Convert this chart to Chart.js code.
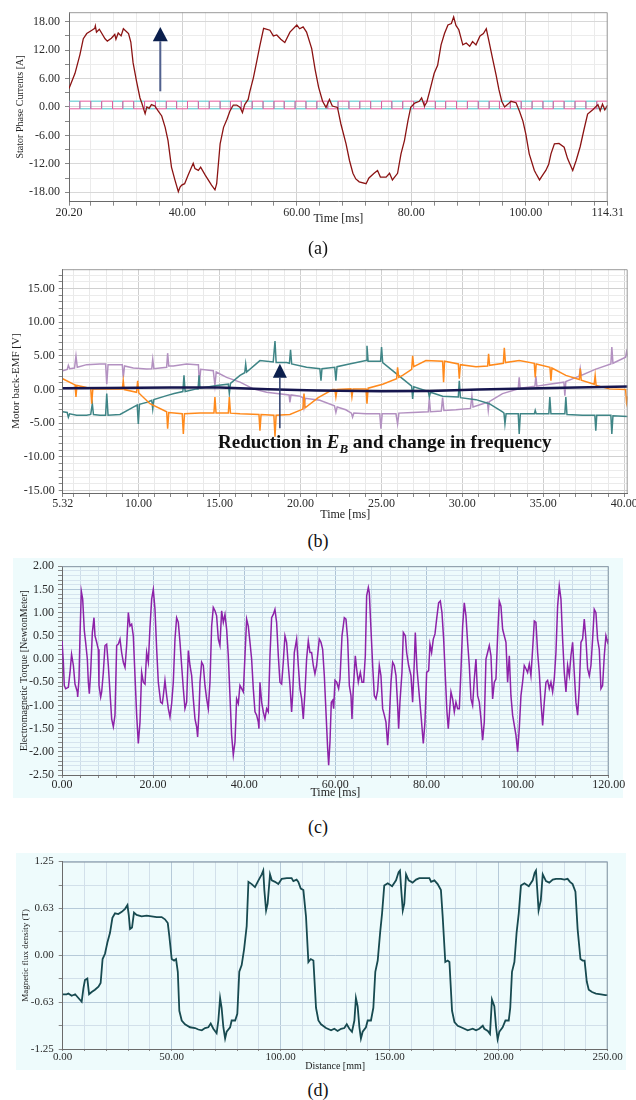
<!DOCTYPE html>
<html lang="en">
<head>
<meta charset="utf-8">
<title>Motor waveforms</title>
<script src="https://cdn.jsdelivr.net/npm/chart.js@4.4.1/dist/chart.umd.min.js"></script>
<style>
  html, body { margin: 0; padding: 0; }
  body { width: 636px; height: 1100px; overflow: hidden; position: relative; background: #fff;
         font-family: "Liberation Serif", "Times New Roman", serif; color: #111; }
  .painel { position: absolute; }
  .fundo { position: absolute; background: #eefbfc; }
  .legenda { position: absolute; left: 0; width: 636px; text-align: center; font-size: 18px; line-height: 20px; }
  .nota { position: absolute; left: 218px; top: 431px; font-size: 19px; line-height: 22px; font-weight: bold; white-space: nowrap; }
  .nota sub { font-size: 13px; }
</style>
</head>
<body>
<div class="fundo" style="left:13px; top:558px; width:610px; height:240px;"></div>
<div class="fundo" style="left:16px; top:853px; width:610px; height:217px;"></div>

<canvas id="graficoA" class="painel" style="left:0; top:0;" width="636" height="228"></canvas>
<canvas id="graficoB" class="painel" style="left:0; top:258px;" width="660" height="264"></canvas>
<canvas id="graficoC" class="painel" style="left:0; top:555px;" width="636" height="248"></canvas>
<canvas id="graficoD" class="painel" style="left:0; top:850px;" width="636" height="225"></canvas>

<div class="legenda" style="top:238px;">(a)</div>
<div class="legenda" style="top:531px;">(b)</div>
<div class="legenda" style="top:817px;">(c)</div>
<div class="legenda" style="top:1080px;">(d)</div>
<div class="nota">Reduction in <i>E<sub>B</sub></i> and change in frequency</div>

<script>
// (a) corrente de fase do estator [A] x tempo [ms]
const tempoA = [
  20.2, 21.25, 22.1, 22.7, 23.3, 24.2, 24.7, 24.8, 25.0, 25.5,
  26.5, 26.9, 27.6, 28.2, 28.4, 28.8, 29.3, 29.7, 30.6, 31.0,
  31.4, 32.0, 32.6, 32.9, 33.5, 33.8, 34.2, 34.6, 35.2, 35.8,
  36.4, 37.0, 37.5, 38.1, 38.7, 39.3, 39.6, 39.9, 40.4, 41.0,
  41.9, 42.2, 42.8, 43.2, 44.0, 45.1, 45.7, 46.0, 46.6, 47.2,
  47.8, 48.3, 48.9, 49.5, 50.1, 50.5, 50.9, 51.5, 51.8, 52.4,
  53.0, 53.5, 54.2, 55.3, 55.9, 56.5, 57.2, 57.9, 58.8, 60.0,
  60.5, 61.1, 61.7, 62.6, 63.2, 63.8, 64.5, 65.1, 65.7, 66.2,
  67.1, 67.7, 68.6, 69.2, 69.8, 70.3, 70.9, 72.1, 72.6, 73.5,
  74.1, 74.6, 75.6, 76.2, 76.7, 77.6, 78.2, 78.8, 79.4, 79.9,
  80.6, 81.4, 81.8, 82.3, 82.7, 83.2, 84.0, 84.6, 85.2, 85.8,
  86.4, 87.0, 87.4, 87.8, 88.3, 89.0, 89.6, 90.2, 90.7, 91.3,
  92.0, 92.6, 93.1, 93.6, 94.2, 94.8, 95.3, 95.8, 96.3, 96.9,
  97.4, 98.3, 98.9, 99.5, 100.0, 100.6, 101.5, 101.8, 102.4, 103.0,
  103.5, 104.0, 104.4, 105.0, 105.8, 106.7, 107.3, 108.2, 108.8, 109.5,
  110.2, 110.8, 111.7, 112.6, 113.0, 113.4, 113.8, 114.31
];
const correnteA = [
  3.9, 7.1, 11.0, 14.4, 15.5, 16.2, 16.6, 17.1, 15.8, 16.4,
  14.4, 13.9, 14.5, 15.3, 14.3, 15.6, 15.0, 16.5, 15.5, 13.7,
  9.3, 5.4, 1.9, 0.9, -1.4, 0, -0.3, 0.5, 0.2, -0.9,
  -1.9, -4.3, -7.1, -12.7, -15.4, -17.9, -16.9, -16.5, -16.2, -14.4,
  -11.9, -13.0, -13.4, -12.7, -14.4, -16.5, -17.5, -16.2, -7.8, -4.3,
  -2.6, -0.9, 0.4, 0.4, -0.1, -1.2, 0.5, 1.6, 3.3, 6.1,
  9.6, 12.7, 16.6, 16.2, 15.0, 15.2, 14.3, 13.6, 15.8, 17.3,
  16.5, 16.9, 15.8, 12.3, 7.9, 4.2, 1.2, -0.1, 1.6, 0.2,
  -0.1, -3.6, -7.8, -11.3, -14.0, -15.2, -15.8, -16.2, -15.0, -14.0,
  -13.4, -14.8, -14.8, -14.0, -15.4, -14.0, -9.9, -7.1, -3.0, -0.1,
  0.8, 1.2, 1.9, 0.2, 1.0, 3.3, 7.1, 8.8, 13.1, 15.5,
  17.3, 17.6, 19.0, 17.2, 16.3, 13.1, 13.5, 12.8, 13.8, 13.1,
  15.0, 15.5, 16.5, 13.7, 10.2, 6.8, 3.7, 1.2, 0, 0.6,
  1.2, 0.9, -0.9, -3.0, -5.7, -9.9, -13.4, -14.1, -15.4, -14.3,
  -13.4, -12.1, -9.9, -7.8, -7.7, -8.5, -10.9, -13.4, -11.3, -8.4,
  -4.6, -1.5, -0.6, 0.5, -0.8, 0.6, -0.6, 0.4
];
// as duas fases chaveadas perto de zero (onda quadrada)
const tempoQuadrada = [
  20.2, 22.1, 24.0, 25.9, 27.8, 29.6, 31.5, 33.4, 35.3, 37.2,
  39.0, 40.9, 42.8, 44.7, 46.6, 48.4, 50.3, 52.2, 54.1, 56.0,
  57.8, 59.7, 61.6, 63.5, 65.4, 67.2, 69.1, 71.0, 72.9, 74.8,
  76.6, 78.5, 80.4, 82.3, 84.2, 86.0, 87.9, 89.8, 91.7, 93.6,
  95.4, 97.3, 99.2, 101.1, 103.0, 104.8, 106.7, 108.6, 110.5, 112.4,
  114.31
];
const faseMagenta = [
  1.22, -0.39, 1.22, -0.39, 1.22, -0.39, 1.22, -0.39, 1.22, -0.39,
  1.22, -0.39, 1.22, -0.39, 1.22, -0.39, 1.22, -0.39, 1.22, -0.39,
  1.22, -0.39, 1.22, -0.39, 1.22, -0.39, 1.22, -0.39, 1.22, -0.39,
  1.22, -0.39, 1.22, -0.39, 1.22, -0.39, 1.22, -0.39, 1.22, -0.39,
  1.22, -0.39, 1.22, -0.39, 1.22, -0.39, 1.22, -0.39, 1.22, -0.39,
  1.22
];
const faseCiano = [
  -0.39, 1.22, -0.39, 1.22, -0.39, 1.22, -0.39, 1.22, -0.39, 1.22,
  -0.39, 1.22, -0.39, 1.22, -0.39, 1.22, -0.39, 1.22, -0.39, 1.22,
  -0.39, 1.22, -0.39, 1.22, -0.39, 1.22, -0.39, 1.22, -0.39, 1.22,
  -0.39, 1.22, -0.39, 1.22, -0.39, 1.22, -0.39, 1.22, -0.39, 1.22,
  -0.39, 1.22, -0.39, 1.22, -0.39, 1.22, -0.39, 1.22, -0.39, 1.22,
  -0.39
];
const rotulosXA = [20.2, 40, 60, 80, 100, 114.31];
const rotulosYA = [-18, -12, -6, 0, 6, 12, 18];

// (b) back-EMF [V] x tempo [ms], quatro curvas
const tempoRoxo = [
  5.32, 5.6, 5.67, 5.75, 6.05, 6.14, 6.22, 6.8, 7.62, 7.97,
  8.04, 8.12, 8.45, 9.0, 9.06, 9.14, 9.68, 10.5, 10.82, 10.88,
  10.95, 11.33, 11.74, 11.8, 11.87, 12.15, 12.97, 13.59, 13.7, 13.76,
  13.84, 14.62, 14.72, 14.8, 15.44, 16.27, 17.09, 17.91, 19.3, 19.35,
  19.42, 19.97, 20.15, 20.22, 20.3, 21.2, 22.1, 22.19, 22.27, 22.8,
  23.15, 23.22, 23.3, 24.05, 24.9, 24.97, 25.05, 25.9, 26.0, 26.08,
  26.93, 27.9, 27.96, 28.03, 28.7, 28.78, 28.86, 29.6, 30.5, 30.59,
  30.66, 31.55, 31.6, 31.66, 32.48, 33.45, 33.51, 33.57, 34.48, 34.54,
  34.6, 35.36, 36.27, 36.33, 36.39, 37.22, 37.28, 37.34, 38.2, 39.17,
  39.23, 39.3, 40.08, 40.14, 40.21
];
const emfRoxo = [
  2.8, 3.0, 3.6, 3.1, 3.2, 5.0, 3.3, 3.7, 3.8, 3.8,
  0.8, 3.7, 3.7, 3.7, 1.8, 3.5, 3.2, 3.05, 3.1, 4.5,
  3.1, 3.2, 3.3, 5.4, 3.5, 3.5, 3.8, 3.7, 3.7, 0.8,
  3.0, 2.8, 0.6, 2.6, 1.8, 1.1, 0.1, -0.4, -0.8, -1.9,
  -0.8, -1.0, -1.2, -2.6, -1.3, -1.6, -2.4, -3.4, -2.6, -3.0,
  -3.5, -4.1, -3.5, -3.6, -3.6, -5.8, -3.6, -3.6, -5.1, -3.5,
  -3.4, -3.3, -1.3, -3.3, -3.2, -1.2, -3.1, -3.0, -2.8, -1.0,
  -2.6, -1.9, -3.1, -1.8, -0.6, 0.1, 1.8, 0.2, 0.5, 2.0,
  0.5, 0.8, 1.1, -0.9, 1.2, 2.0, 3.1, 2.1, 3.0, 3.8,
  6.3, 3.9, 4.8, 5.6, 4.9
];
const tempoVerde = [
  5.32, 5.6, 5.67, 5.75, 6.18, 6.8, 7.05, 7.15, 7.22, 7.62,
  7.97, 8.04, 8.12, 8.86, 9.68, 9.92, 9.99, 10.06, 10.5, 10.82,
  10.88, 10.95, 11.74, 12.2, 12.74, 12.81, 12.88, 13.59, 13.68, 13.74,
  13.8, 14.83, 15.55, 15.61, 15.68, 16.27, 16.56, 16.62, 16.68, 17.5,
  18.32, 18.43, 18.5, 19.15, 19.32, 19.39, 19.46, 20.38, 21.2, 21.27,
  21.33, 22.12, 22.19, 22.26, 23.02, 24.05, 24.11, 24.18, 24.95, 25.01,
  25.08, 25.69, 26.72, 26.87, 26.93, 27.0, 27.9, 27.96, 28.03, 28.78,
  29.75, 29.81, 29.88, 30.84, 31.66, 32.48, 32.57, 32.63, 32.7, 33.45,
  33.51, 33.58, 34.45, 34.5, 34.56, 35.34, 35.4, 35.47, 36.33, 36.39,
  36.46, 37.42, 38.18, 38.24, 38.3, 39.17, 39.23, 39.3, 40.21
];
const emfVerde = [
  -3.3, -3.4, -4.1, -3.6, -3.8, -3.8, -3.7, -2.1, -3.7, -3.8,
  -3.8, -0.6, -3.8, -3.7, -2.6, -2.3, -5.1, -2.2, -1.9, -1.6,
  -2.9, -1.5, -0.9, -0.6, -0.3, 2.1, -0.3, 0.1, 0.1, 2.1,
  0.2, 0.6, 0.8, -0.6, 0.9, 2.1, 2.5, 3.8, 2.6, 4.3,
  4.1, 7.2, 4.0, 4.0, 3.9, 5.9, 3.8, 3.3, 3.1, 1.3,
  3.1, 3.3, 1.3, 3.4, 3.8, 4.3, 6.5, 4.2, 4.2, 6.3,
  4.0, 2.8, 0.8, 0.5, -1.4, 0.4, -0.3, -1.1, -0.4, -1.0,
  -1.1, 1.3, -1.2, -1.5, -2.1, -3.3, -3.5, -5.1, -3.6, -3.6,
  -6.6, -3.6, -3.6, -3.1, -3.6, -3.6, -1.1, -3.6, -3.6, -1.1,
  -3.7, -3.8, -3.8, -6.1, -3.8, -3.8, -6.6, -3.9, -4.0
];
const tempoLaranja = [
  5.32, 5.98, 6.08, 6.14, 6.2, 6.8, 7.05, 7.11, 7.18, 7.62,
  9.0, 9.06, 9.12, 9.88, 9.95, 10.02, 10.71, 11.74, 11.8, 11.87,
  12.7, 12.77, 12.84, 13.8, 14.66, 14.72, 14.79, 15.55, 15.61, 15.68,
  16.27, 17.44, 17.5, 17.57, 18.36, 18.43, 18.5, 19.35, 20.15, 20.22,
  20.29, 21.1, 21.99, 22.13, 22.19, 22.26, 23.12, 23.18, 23.25, 24.05,
  24.11, 24.18, 25.08, 25.94, 26.0, 26.07, 26.31, 26.87, 26.93, 27.0,
  27.75, 28.78, 28.84, 28.9, 29.75, 29.81, 29.88, 30.84, 31.56, 31.62,
  31.68, 32.53, 32.59, 32.66, 33.51, 34.44, 34.5, 34.56, 35.41, 35.47,
  35.53, 36.39, 37.22, 37.28, 37.34, 38.14, 38.2, 38.26, 39.07, 40.08,
  40.14, 40.21
];
const emfLaranja = [
  1.6, 0.8, 0.7, -1.1, 0.6, 0.3, 0.2, -2.1, 0.1, 0.1,
  0.1, 1.3, 0.0, -0.4, 1.3, -0.5, -2.1, -3.3, -5.8, -3.4,
  -3.6, -6.6, -3.6, -3.5, -3.5, -1.1, -3.5, -3.5, -1.1, -3.5,
  -3.6, -3.7, -6.1, -3.7, -3.8, -7.0, -3.8, -3.7, -2.9, -0.6,
  -2.7, -1.2, 0.0, 0.0, -1.1, 0.0, 0.1, -1.1, 0.1, 0.1,
  -2.1, 0.2, 0.8, 1.6, 3.3, 1.8, 2.1, 3.0, 5.0, 3.4,
  4.3, 4.2, 1.1, 4.2, 3.8, 1.6, 3.7, 3.4, 3.5, 5.3,
  3.6, 3.9, 6.2, 4.0, 4.3, 3.9, 1.8, 3.8, 3.3, 1.3,
  3.2, 2.1, 1.5, 3.1, 1.4, 0.8, 2.1, 0.6, 0.1, 0.0,
  -1.9, -1.0
];
const tempoAzul = [5.32, 8, 12, 15, 18, 21, 25, 28, 31, 34, 37, 40.21];
const emfAzul = [0.2, 0.22, 0.3, 0.3, 0.05, -0.15, -0.25, -0.2, 0.0, 0.15, 0.3, 0.45];
const rotulosXB = [5.32, 10, 15, 20, 25, 30, 35, 40];
const rotulosYB = [-15, -10, -5, 0, 5, 10, 15];

// (c) torque eletromagnético [N.m] x tempo [ms]
const tempoC = [
  0, 0.3, 0.5, 0.8, 1.39, 1.76, 2.1, 2.5, 2.85, 3.37,
  3.44, 3.73, 3.95, 4.24, 4.54, 4.9, 5.19, 5.56, 5.78, 6.0,
  6.29, 6.66, 7.02, 7.24, 7.61, 7.97, 8.12, 8.49, 8.71, 9.07,
  9.44, 9.8, 10.17, 10.53, 10.9, 11.27, 11.63, 12.0, 12.36, 12.73,
  13.09, 13.46, 13.83, 14.19, 14.56, 14.92, 15.29, 15.65, 16.02, 16.39,
  16.75, 17.12, 17.48, 17.85, 18.22, 18.58, 18.95, 19.31, 19.68, 20.04,
  20.41, 20.78, 21.14, 21.65, 22.02, 22.24, 22.6, 22.97, 23.34, 23.7,
  24.07, 24.43, 24.8, 25.16, 25.53, 25.9, 26.26, 26.63, 26.99, 27.36,
  27.73, 28.09, 28.46, 28.82, 29.19, 29.55, 29.77, 30.07, 30.29, 30.65,
  31.02, 31.38, 31.75, 32.11, 32.48, 32.85, 33.21, 33.58, 33.94, 34.31,
  34.67, 35.04, 35.41, 35.77, 36.14, 36.5, 36.87, 37.23, 37.6, 37.97,
  38.33, 38.7, 39.06, 39.43, 39.8, 40.16, 40.53, 40.89, 41.26, 41.62,
  41.99, 42.36, 42.72, 43.09, 43.23, 43.45, 43.82, 44.18, 44.55, 44.92,
  45.28, 45.65, 46.01, 46.38, 46.74, 47.11, 47.48, 47.84, 48.21, 48.57,
  48.94, 49.3, 49.67, 50.04, 50.4, 50.62, 50.99, 51.5, 51.87, 52.23,
  52.6, 52.96, 53.33, 53.69, 54.06, 54.43, 54.79, 55.16, 55.52, 55.89,
  56.47, 56.85, 57.21, 57.58, 57.94, 58.31, 58.53, 58.82, 59.11, 59.41,
  59.63, 59.92, 60.29, 60.72, 61.02, 61.46, 61.97, 62.33, 62.7, 63.07,
  63.43, 63.65, 63.94, 64.38, 64.67, 65.04, 65.48, 65.85, 66.21, 66.58,
  66.87, 67.24, 67.45, 67.82, 68.19, 68.55, 68.92, 69.28, 69.65, 70.01,
  70.38, 70.75, 71.11, 71.48, 71.84, 72.21, 72.58, 72.94, 73.31, 73.67,
  73.89, 74.18, 74.62, 74.92, 75.36, 75.65, 76.09, 76.6, 76.96, 77.33,
  77.55, 77.92, 78.43, 78.87, 79.3, 79.67, 80.04, 80.48, 80.77, 81.13,
  81.5, 81.87, 82.23, 82.67, 83.04, 83.4, 83.77, 84.13, 84.5, 84.79,
  85.01, 85.38, 85.74, 86.11, 86.47, 86.84, 87.21, 87.57, 87.94, 88.3,
  88.67, 89.03, 89.4, 89.77, 90.13, 90.5, 90.86, 91.23, 91.6, 91.96,
  92.33, 92.69, 93.06, 93.42, 93.79, 94.16, 94.52, 94.89, 95.25, 95.62,
  95.98, 96.35, 96.72, 97.08, 97.45, 97.81, 98.18, 98.54, 98.91, 99.28,
  99.64, 100.01, 100.37, 100.74, 101.1, 101.47, 101.84, 102.2, 102.57, 102.93,
  103.3, 103.67, 104.03, 104.4, 104.76, 105.13, 105.5, 105.86, 106.23, 106.59,
  106.96, 107.32, 107.69, 108.05, 108.42, 108.79, 109.15, 109.52, 109.88, 110.25,
  110.62, 110.98, 111.35, 111.71, 112.08, 112.44, 112.81, 113.18, 113.54, 113.91,
  114.27, 114.64, 115.0, 115.37, 115.74, 116.1, 116.47, 116.83, 117.2, 117.56,
  117.93, 118.3, 118.66, 119.03, 119.39, 119.76, 120
];
const torqueC = [
  0.39, -0.07, -0.57, -0.64, -0.61, -0.29, 0.1, -0.14, -0.54, -0.71,
  -0.82, -0.43, 0.5, 1.46, 1.29, 0.61, 0.36, 0, -0.5, -0.75,
  -0.29, 0.57, 0.89, 0.5, 0.36, 0.21, -0.57, -0.82, -0.71, -0.29,
  0.29, 0.32, -0.14, -0.71, -1.29, -1.46, -1.21, 0.29, 0.32, 0.43,
  0.14, -0.07, -0.18, 0.29, 1.0, 0.71, 0.75, 0.5, -0.36, -1.21,
  -1.82, -1.36, -0.29, -0.5, -0.54, 0.14, -0.07, 0.68, 1.29, 1.5,
  1.07, 0.21, -0.5, -0.93, -0.96, -0.79, -0.46, -0.79, -1.07, -1.25,
  -0.96, -0.5, 0.43, 0.89, 0.79, 0.36, -0.14, -0.64, -1.07, -0.93,
  0.18, -0.14, -0.36, -0.86, -1.29, -1.46, -1.68, -1.14, -0.5, -0.07,
  -0.14, -0.57, -0.86, -1.07, -0.5, 0.71, 1.11, 1.04, 0.93, 0.43,
  0.29, 1.04, 0.79, 0.96, 0.64, 0.07, -0.79, -1.64, -2.07, -1.79,
  -0.86, -0.96, -0.57, -0.64, -0.71, 0.07, 0.86, 0.71, 0.36, 0,
  -0.64, -1.14, -1.21, -1.36, -1.5, -0.5, -0.93, -1.14, -1.29, -1.07,
  -1.14, 0.07, 0.89, 0.96, 1.07, 0.79, 0.07, -0.5, -0.54, -0.07,
  0.5, 0.36, -0.14, -0.57, -1.14, -0.79, 0.14, 0.43, -0.14, -0.64,
  -0.86, -1.29, -0.71, 0, 0.39, 0.14, 0.14, -0.14, -0.32, -0.14,
  0.43, 0.36, 0.21, -0.36, -1.14, -1.93, -2.29, -1.79, -0.93, -0.89,
  -1.07, -0.46, -0.5, -0.64, -0.43, 0.5, 0.89, 0.86, 0.43, -0.57,
  -0.79, -1.29, -0.64, 0.07, -0.21, -0.5, -0.29, -0.5, -0.5, 0.07,
  1.36, 1.54, 1.43, 0.64, -0.14, -0.79, -0.86, -0.68, -0.14, -0.36,
  -1.07, -1.21, -1.36, -1.86, -1.29, -0.5, -0.07, -0.14, -0.36, -1.0,
  -1.5, -0.93, -0.29, 0.57, 0.5, 0.14, -0.14, -0.36, -0.93, -0.07,
  0.57, -0.21, -0.79, -1.29, -1.82, -1.36, -0.29, -0.25, 0.32, 0.14,
  0.43, 0.54, 0.86, 1.21, 1.25, 1.0, 0.43, -0.36, -1.14, -1.5,
  -1.21, -0.71, -0.86, -1.14, -0.93, -1.07, -1.07, -0.25, 0.71, 1.21,
  0.93, 0.36, -0.14, -0.86, -1.0, -0.43, 0, -0.79, -0.93, -1.29,
  -1.75, -1.36, 0, 0.14, 0.29, 0.07, -0.86, -0.5, -0.43, 0.5,
  1.25, 1.14, 0.64, 0.5, 0.36, -0.5, 0.07, -0.79, -1.21, -1.43,
  -1.64, -2.0, -1.5, -0.79, -0.5, -0.14, -0.21, -0.29, -0.11, -0.36,
  0.21, 0.82, 0.79, 0.14, -0.29, -0.93, -1.43, -0.93, -0.5, -0.46,
  -0.64, -0.5, -0.71, -0.43, 0.14, 1.14, 1.57, 1.29, 0.43, -0.29,
  -0.71, -0.14, -0.36, 0.07, 0.36, -0.29, -0.93, -1.21, -0.64, 0.36,
  0.43, 0.86, 0.43, -0.21, -0.36, -0.14, 0.43, 1.07, 1.0, 0.43,
  0.21, -0.64, -0.57, 0.07, 0.5, 0.36, 0.43
];
const rotulosXC = [0, 20, 40, 60, 80, 100, 120];
const rotulosYC = [-2.5, -2, -1.5, -1, -0.5, 0, 0.5, 1, 1.5, 2];

// (d) densidade de fluxo [T] x distância [mm]
const distanciaD = [
  0, 1.8, 2.6, 4.1, 5.7, 7.2, 8.7, 9.5, 10.2, 11.3,
  12.1, 13.3, 14.8, 16.4, 17.4, 18.3, 19.4, 20.5, 21.7, 22.8,
  24.0, 25.5, 27.1, 28.6, 29.7, 30.3, 30.9, 31.8, 32.7, 33.9,
  36.2, 38.5, 40.8, 43.1, 45.4, 46.9, 48.2, 48.9, 50.0, 51.1,
  52.0, 52.8, 53.5, 54.6, 56.1, 58.4, 60.7, 62.2, 63.8, 65.3,
  66.8, 67.9, 69.1, 70.6, 71.4, 72.2, 72.9, 73.7, 74.5, 75.2,
  76.8, 77.5, 79.1, 80.1, 81.0, 82.1, 83.2, 84.4, 85.2, 86.7,
  88.2, 89.8, 91.3, 92.0, 92.5, 93.3, 94.0, 95.1, 95.9, 97.4,
  98.9, 100.5, 102.8, 105.0, 105.8, 107.3, 108.1, 109.2, 110.4, 111.6,
  112.7, 113.8, 115.0, 116.2, 117.3, 118.5, 120.8, 123.1, 124.6, 126.1,
  127.7, 129.2, 130.3, 131.5, 132.7, 133.8, 134.5, 135.3, 136.1, 136.8,
  137.6, 139.1, 139.9, 141.4, 142.5, 143.4, 144.5, 145.6, 146.5, 147.5,
  149.1, 151.1, 152.9, 154.1, 154.7, 155.3, 156.0, 156.7, 157.5, 158.7,
  160.5, 162.1, 163.6, 165.9, 168.2, 169.0, 170.5, 172.0, 173.5, 174.3,
  175.5, 176.6, 177.4, 178.6, 179.7, 181.2, 183.5, 185.8, 188.1, 189.6,
  191.1, 192.7, 193.4, 195.0, 196.0, 196.9, 198.0, 198.8, 199.5, 200.3,
  201.8, 203.1, 204.6, 205.3, 206.1, 207.2, 208.2, 209.2, 210.2, 211.8,
  213.8, 215.6, 216.5, 217.1, 217.7, 218.3, 219.3, 220.2, 221.7, 223.2,
  224.8, 226.3, 228.6, 230.1, 231.6, 232.7, 233.9, 235.2, 236.2, 237.5,
  238.5, 239.4, 240.4, 241.3, 242.8, 244.6, 246.9, 248.9, 250
];
const fluxoD = [
  -0.52, -0.52, -0.51, -0.54, -0.52, -0.57, -0.62, -0.44, -0.33, -0.31,
  -0.52, -0.49, -0.46, -0.42, -0.37, -0.05, 0.02, 0.17, 0.30, 0.50,
  0.56, 0.55, 0.58, 0.62, 0.67, 0.54, 0.35, 0.37, 0.57, 0.54,
  0.52, 0.53, 0.52, 0.51, 0.51, 0.48, 0.43, 0.26, -0.05, -0.07,
  -0.05, -0.22, -0.74, -0.87, -0.92, -0.96, -0.97, -0.99, -1.0, -0.97,
  -0.96, -0.91, -0.98, -1.04, -0.87, -0.57, -0.7, -0.96, -1.11, -1.02,
  -0.96, -0.87, -0.87, -0.78, -0.22, -0.13, 0.08, 0.39, 0.98, 0.95,
  0.91, 1.0, 1.08, 1.13, 0.87, 0.6, 0.69, 1.08, 1.0, 0.98,
  0.95, 1.02, 1.03, 1.03, 0.99, 1.01, 0.98, 0.89, 0.87, 0.52,
  -0.09, -0.05, -0.07, -0.7, -0.87, -0.92, -0.97, -1.0, -0.98, -1.01,
  -0.98, -0.97, -0.92, -0.98, -1.02, -0.87, -0.57, -0.68, -0.96, -1.11,
  -1.02, -0.96, -0.87, -0.87, -0.7, -0.22, -0.07, 0.30, 0.56, 0.93,
  0.96, 0.92, 1.0, 1.11, 1.13, 0.87, 0.6, 0.69, 1.08, 1.0,
  0.97, 1.01, 1.03, 1.03, 1.03, 0.98, 1.0, 0.95, 0.87, 0.52,
  -0.09, -0.07, -0.09, -0.74, -0.89, -0.94, -0.97, -1.0, -0.98, -1.0,
  -0.98, -0.94, -0.98, -1.01, -1.05, -0.59, -0.68, -0.96, -1.12, -1.02,
  -0.96, -0.87, -0.87, -0.7, -0.22, -0.09, 0.3, 0.56, 0.93, 0.96,
  0.92, 1.0, 1.1, 1.13, 0.87, 0.6, 0.73, 1.08, 0.99, 0.97,
  1.01, 1.02, 1.02, 1.01, 1.02, 0.98, 0.95, 0.85, 0.35, -0.05,
  -0.07, -0.07, -0.35, -0.46, -0.49, -0.51, -0.52, -0.53, -0.53
];
const rotulosXD = [0, 50, 100, 150, 200, 250];
const rotulosYD = [-1.25, -0.625, 0, 0.625, 1.25];

// --- utilitários ---
Chart.defaults.font.family = '"Liberation Serif", "Times New Roman", serif';
Chart.defaults.color = '#333';
Chart.defaults.animation = false;

function passos(inicio, fim, passo) {
  const lista = [];
  for (let v = inicio; v <= fim + 1e-9; v += passo) lista.push(Math.round(v * 10000) / 10000);
  return lista;
}
function contem(lista, v) { return lista.some(r => Math.abs(r - v) < 1e-6); }
function pontos(xs, ys) { return xs.map((x, i) => ({ x: x, y: ys[i] })); }

function eixo(c) {
  const maiores = c.maiores || c.rotulos;
  return {
    type: 'linear', position: c.pos, min: c.min, max: c.max,
    afterBuildTicks: s => { s.ticks = c.grade.map(v => ({ value: v })); },
    afterFit: s => { if (c.pos === 'left') s.width = c.tam; else s.height = c.tam; },
    ticks: {
      autoSkip: false, maxRotation: 0, minRotation: 0, padding: c.padTick,
      color: '#2a2a2a', font: { size: c.fonte },
      callback: v => contem(c.rotulos, v) ? v.toFixed(2) : ''
    },
    grid: {
      color: g => (g.tick && contem(maiores, g.tick.value)) ? c.corMaior : c.corMenor,
      lineWidth: 1, tickLength: c.tick, tickColor: '#888'
    },
    border: { color: '#6a6a6a', width: 1 },
    title: { display: true, text: c.titulo, color: '#222', font: { size: c.fonteTitulo }, padding: c.padTitulo }
  };
}

// moldura (borda superior e direita da área do gráfico)
const moldura = {
  id: 'moldura',
  afterDraw(chart, args, opts) {
    const { ctx, chartArea: a } = chart;
    ctx.save();
    ctx.strokeStyle = opts.cor || '#999';
    ctx.lineWidth = 1;
    ctx.beginPath();
    ctx.moveTo(a.left, a.top + 0.5);
    ctx.lineTo(a.right - 0.5, a.top + 0.5);
    ctx.lineTo(a.right - 0.5, a.bottom);
    ctx.stroke();
    ctx.restore();
  }
};

// seta de anotação, posicionada em coordenadas de dados
const seta = {
  id: 'seta',
  afterDatasetsDraw(chart, args, opts) {
    if (opts.em === undefined) return;
    const { ctx } = chart;
    const sx = chart.scales.x, sy = chart.scales.y;
    const x = sx.getPixelForValue(opts.em);
    const yPonta = sy.getPixelForValue(opts.ponta);
    const yBase = sy.getPixelForValue(opts.base);
    const yFim = sy.getPixelForValue(opts.fim);
    ctx.save();
    ctx.strokeStyle = opts.corHaste;
    ctx.lineWidth = opts.espessura;
    ctx.beginPath();
    ctx.moveTo(x, yFim);
    ctx.lineTo(x, yBase);
    ctx.stroke();
    ctx.fillStyle = opts.cor;
    ctx.beginPath();
    ctx.moveTo(x, yPonta);
    ctx.lineTo(x - opts.meia, yBase);
    ctx.lineTo(x + opts.meia, yBase);
    ctx.closePath();
    ctx.fill();
    ctx.restore();
  }
};

const basico = {
  responsive: false,
  elements: { point: { radius: 0 }, line: { tension: 0 } },
};

// 1. Correntes de fase do estator
new Chart(document.getElementById('graficoA'), {
  type: 'line',
  data: {
    datasets: [
      { data: pontos(tempoA, correnteA), borderColor: '#8b1313', borderWidth: 1.3 },
      { data: pontos(tempoQuadrada, faseMagenta), borderColor: '#e35d9f', borderWidth: 1, stepped: 'after' },
      { data: pontos(tempoQuadrada, faseCiano), borderColor: '#4cc3cb', borderWidth: 1, stepped: 'after' }
    ]
  },
  options: {
    ...basico,
    layout: { padding: { top: 10, right: 28.3, left: 0, bottom: 0 } },
    plugins: {
      legend: { display: false }, tooltip: { enabled: false },
      moldura: { cor: '#9a9a9a' },
      seta: { em: 36.15, ponta: 16.9, base: 13.85, fim: 3.3, meia: 7.5, cor: '#0b1f4d', corHaste: '#51618f', espessura: 2 }
    },
    scales: {
      x: eixo({ pos: 'bottom', min: 20.2, max: 114.31, tam: 26.3,
        grade: [20.2].concat(passos(24, 112, 4), [114.31]), rotulos: rotulosXA, maiores: [40, 60, 80, 100],
        fonte: 12, padTick: 0, tick: 4, corMaior: '#d2d2d2', corMenor: '#ebebeb',
        titulo: 'Time [ms]', fonteTitulo: 12, padTitulo: { top: 0, bottom: 2 } }),
      y: eixo({ pos: 'left', min: -20, max: 20, tam: 69,
        grade: passos(-18, 18, 3), rotulos: rotulosYA,
        fonte: 12, padTick: 5, tick: 4, corMaior: '#d8d8d8', corMenor: '#ececec',
        titulo: 'Stator Phase Currents [A]', fonteTitulo: 10, padTitulo: { top: 14, bottom: 0 } })
    }
  },
  plugins: [moldura, seta]
});

// 2. Back-EMF do motor
new Chart(document.getElementById('graficoB'), {
  type: 'line',
  data: {
    datasets: [
      { data: pontos(tempoAzul, emfAzul), borderColor: '#16164f', borderWidth: 2.5 },
      { data: pontos(tempoLaranja, emfLaranja), borderColor: '#ff8a1c', borderWidth: 1.5 },
      { data: pontos(tempoVerde, emfVerde), borderColor: '#3f8586', borderWidth: 1.5 },
      { data: pontos(tempoRoxo, emfRoxo), borderColor: '#b391c1', borderWidth: 1.5 }
    ]
  },
  options: {
    ...basico,
    layout: { padding: { top: 10, right: 32.3, left: 0, bottom: 0 } },
    plugins: {
      legend: { display: false }, tooltip: { enabled: false },
      moldura: { cor: '#9a9a9a' },
      seta: { em: 18.73, ponta: 3.84, base: 1.77, fim: -5.76, meia: 7, cor: '#0b1f4d', corHaste: '#2c3d6c', espessura: 1.5 }
    },
    scales: {
      x: eixo({ pos: 'bottom', min: 5.32, max: 40.21, tam: 29,
        grade: [5.32].concat(passos(6, 40, 1)), rotulos: rotulosXB, maiores: [10, 15, 20, 25, 30, 35, 40],
        fonte: 12, padTick: 0, tick: 4, corMaior: '#cfcfcf', corMenor: '#e9e9e9',
        titulo: 'Time [ms]', fonteTitulo: 12, padTitulo: { top: 0, bottom: 0 } }),
      y: eixo({ pos: 'left', min: -15.36, max: 17.87, tam: 62.7,
        grade: passos(-15, 17, 1), rotulos: rotulosYB,
        fonte: 12, padTick: 4, tick: 4, corMaior: '#d0d0d0', corMenor: '#ebebeb',
        titulo: 'Motor back-EMF [V]', fonteTitulo: 11, padTitulo: { top: 10, bottom: 0 } })
    }
  },
  plugins: [moldura, seta]
});

// 3. Torque eletromagnético
new Chart(document.getElementById('graficoC'), {
  type: 'line',
  data: {
    datasets: [
      { data: pontos(tempoC, torqueC), borderColor: '#8d22a8', borderWidth: 1.5 }
    ]
  },
  options: {
    ...basico,
    layout: { padding: { top: 10, right: 27.3, left: 0, bottom: 0 } },
    plugins: {
      legend: { display: false }, tooltip: { enabled: false },
      moldura: { cor: '#8c9ba6' }
    },
    scales: {
      x: eixo({ pos: 'bottom', min: 0, max: 120, tam: 28,
        grade: passos(0, 120, 4), rotulos: rotulosXC,
        fonte: 12, padTick: 0, tick: 3, corMaior: '#aec4d6', corMenor: '#cddde9',
        titulo: 'Time [ms]', fonteTitulo: 12, padTitulo: { top: 0, bottom: 3 } }),
      y: eixo({ pos: 'left', min: -2.5, max: 2.0, tam: 62,
        grade: passos(-2.5, 2.0, 0.1), rotulos: rotulosYC,
        fonte: 12, padTick: 4, tick: 4, corMaior: '#b3c8d9', corMenor: '#d6e4ee',
        titulo: 'Electromagnetic Torque [NewtonMeter]', fonteTitulo: 10, padTitulo: { top: 18, bottom: 0 } })
    }
  },
  plugins: [moldura]
});

// 4. Densidade de fluxo magnético
new Chart(document.getElementById('graficoD'), {
  type: 'line',
  data: {
    datasets: [
      { data: pontos(distanciaD, fluxoD), borderColor: '#174a50', borderWidth: 1.8 }
    ]
  },
  options: {
    ...basico,
    layout: { padding: { top: 7.3, right: 28.3, left: 0, bottom: 0 } },
    plugins: {
      legend: { display: false }, tooltip: { enabled: false },
      moldura: { cor: '#8c9ba6' }
    },
    scales: {
      x: eixo({ pos: 'bottom', min: 0, max: 250, tam: 26,
        grade: passos(0, 250, 10), rotulos: rotulosXD,
        fonte: 11, padTick: 0, tick: 2, corMaior: '#b6cad9', corMenor: '#d2e0ea',
        titulo: 'Distance [mm]', fonteTitulo: 10, padTitulo: { top: 0, bottom: 3 } }),
      y: eixo({ pos: 'left', min: -1.25, max: 1.25, tam: 62.7,
        grade: passos(-1.25, 1.25, 0.3125), rotulos: rotulosYD,
        fonte: 11, padTick: 5, tick: 4, corMaior: '#b6cad9', corMenor: '#d2e0ea',
        titulo: 'Magnetic flux density (T)', fonteTitulo: 9, padTitulo: { top: 20, bottom: 0 } })
    }
  },
  plugins: [moldura]
});
</script>
</body>
</html>
